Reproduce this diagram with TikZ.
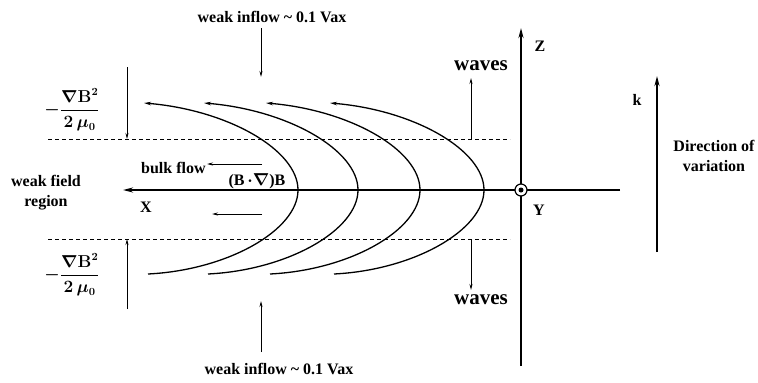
\documentclass[tikz,border=0pt]{standalone}
\usepackage{fontspec}
\setmainfont{Liberation Serif}
\usepackage{amsmath}
\usetikzlibrary{arrows.meta,positioning}
\newcommand{\magpress}{$-\dfrac{\nabla\mathbf{B}^{2}}{2\,\mu_{0}}$}

\begin{document}
\begin{tikzpicture}[
	x=1pt, y=-1pt,
	lbl/.style={font=\fontsize{16}{20}\selectfont\bfseries, inner sep=1pt, align=center},
	mlbl/.style={font=\fontsize{16}{20}\selectfont\bfseries\boldmath, inner sep=1pt},
	big/.style={font=\fontsize{21}{24}\selectfont\bfseries, inner sep=1pt},
	axis/.style={line width=1.8pt, -{Stealth[length=10pt,width=5pt]}},
	fline/.style={line width=1.3pt},
	arrow/.style={-{Stealth[length=6pt,width=3pt]}, line width=0.9pt},
	guide/.style={dash pattern=on 4pt off 3pt, line width=0.8pt}
	]
	\useasboundingbox (0,0) rectangle (758,383);

	% axes
	\coordinate (o) at (521,190);
	\coordinate (ztop) at (521,28);
	\coordinate (zbot) at (521,366);
	\coordinate (xend) at (620,190);
	\coordinate (xtip) at (123,190);
	\draw[axis] (zbot) -- (ztop);
	\draw[axis] (xend) -- (xtip);
	\draw[line width=1.2pt, fill=white] (o) circle (6pt);
	\fill (o) circle (2.5pt);
	\node[lbl] (zlab) at (540,46) {Z};
	\node[lbl] (ylab) at (539,210) {Y};
	\node[lbl] (xlab) at (146,207) {X};

	% layer boundaries
	\coordinate (bt1) at (48,139);
	\coordinate (bt2) at (510,139);
	\coordinate (bb1) at (48,239);
	\coordinate (bb2) at (510,239);
	\draw[guide] (bt1) -- (bt2);
	\draw[guide] (bb1) -- (bb2);

	% field lines
	\foreach \v in {298,358,420,484} {
		\draw[fline, -{Stealth[length=7pt,width=3.5pt]}] (\v-150,274)
			.. controls (\v-70,270) and (\v,230) .. (\v,190)
			.. controls (\v,150) and (\v-70,110) .. (\v-154,103);
	}

	% inflow
	\node[lbl] (inflowT) at (272,17) {weak inflow \textasciitilde{} 0.1 Vax};
	\node[lbl] (inflowB) at (279,369) {weak inflow \textasciitilde{} 0.1 Vax};
	\coordinate (inT1) at (261,28);
	\coordinate (inT2) at (261,77);
	\coordinate (inB1) at (261,352);
	\coordinate (inB2) at (261,301);
	\draw[arrow] (inT1) -- (inT2);
	\draw[arrow] (inB1) -- (inB2);

	% waves
	\node[big] (wavesT) at (481,66) {waves};
	\node[big] (wavesB) at (481,300) {waves};
	\coordinate (wT) at (471,78);
	\coordinate (wB) at (471,290);
	\draw[arrow] (bt2 -| wT) -- (wT);
	\draw[arrow] (bb2 -| wB) -- (wB);

	% magnetic pressure
	\node[mlbl] (gradT) at (72,110) {\magpress};
	\node[mlbl] (gradB) at (72,275) {\magpress};
	\coordinate (pT) at (127,67);
	\coordinate (pB) at (127,309);
	\draw[arrow] (pT) -- (bt1 -| pT);
	\draw[arrow] (pB) -- (bb1 -| pB);

	% flow
	\node[lbl, anchor=west] (bulk) at (140,168) {bulk flow};
	\node[mlbl] (force) at (257,181) {(B\,$\cdot\nabla$)B};
	\coordinate (f1) at (262,164);
	\coordinate (f2) at (207,164);
	\coordinate (f3) at (262,214);
	\coordinate (f4) at (212,214);
	\draw[arrow] (f1) -- (f2);
	\draw[arrow] (f3) -- (f4);
	\node[lbl] (weak) at (46,193) {weak field\\region};

	% wave vector
	\coordinate (k1) at (657,252);
	\coordinate (k2) at (657,76);
	\draw[axis] (k1) -- (k2);
	\node[lbl] (klab) at (637,100) {k};
	\node[lbl] (dir) at (714,156) {Direction of\\variation};
\end{tikzpicture}
\end{document}
